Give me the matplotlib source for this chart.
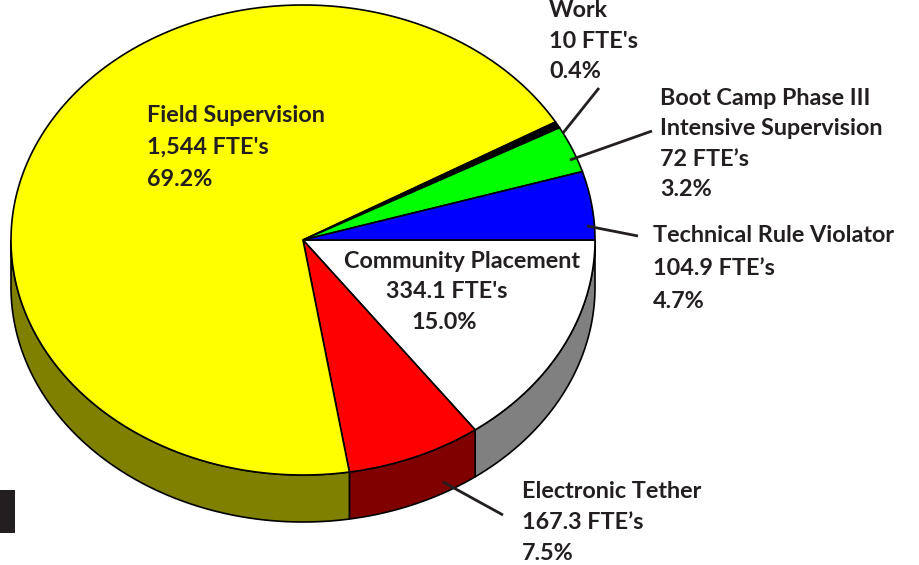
import numpy as np
import matplotlib
matplotlib.use("Agg")
import matplotlib.pyplot as plt
from matplotlib.patches import Polygon, Rectangle

# ---- data (clockwise from 3 o'clock) ----
categories = ["Community Placement", "Electronic Tether", "Field Supervision",
              "Work", "Boot Camp Phase III\nIntensive Supervision", "Technical Rule Violator"]
fte_values = [334.1, 167.3, 1544, 10, 72, 104.9]
fte_labels = ["334.1 FTE's", "167.3 FTE\u2019s", "1,544 FTE's", "10 FTE's", "72 FTE\u2019s", "104.9 FTE\u2019s"]
top_colors = ["#ffffff", "#ff0000", "#ffff00", "#000000", "#00ff00", "#0000ff"]
side_colors = ["#808080", "#800000", "#808000", "#000000", "#008000", "#000080"]

W, H = 919, 565
fig = plt.figure(figsize=(W / 100, H / 100), dpi=100)
ax = fig.add_axes([0, 0, 1, 1])
ax.set_xlim(0, W)
ax.set_ylim(H, 0)
ax.axis("off")

cx, cy, rx, ry, depth = 303, 240, 292, 235, 47
TXT = "#231f20"
FONT = dict(family=["Lato", "DejaVu Sans"], weight="bold", fontsize=16.8, color=TXT)

total = float(sum(fte_values))
fracs = [v / total for v in fte_values]
bounds = np.concatenate([[0], np.cumsum(fracs)]) * 360.0


def arc(a0, a1, dy=0):
    t = np.radians(np.linspace(a0, a1, max(int(abs(a1 - a0)) * 2 + 2, 4)))
    return np.column_stack([cx + rx * np.cos(t), cy + ry * np.sin(t) + dy])


# sides (visible front half 0..180 deg, screen clockwise)
for i in range(len(fte_values)):
    a0, a1 = bounds[i], bounds[i + 1]
    s0, s1 = max(a0, 0), min(a1, 180)
    if s1 > s0:
        top = arc(s0, s1)
        bot = arc(s0, s1, depth)[::-1]
        ax.add_patch(Polygon(np.vstack([top, bot]), closed=True,
                             facecolor=side_colors[i], edgecolor="black", lw=1.2, zorder=2))

# top faces
for i in range(len(fte_values)):
    a0, a1 = bounds[i], bounds[i + 1]
    pts = np.vstack([[cx, cy], arc(a0, a1)])
    ax.add_patch(Polygon(pts, closed=True, facecolor=top_colors[i],
                         edgecolor="black", lw=1.2, zorder=3))

pct = [f"{100 * f:.1f}%" for f in fracs]


def block(x, baselines, lines, ha="left"):
    xs = x if isinstance(x, (list, tuple)) else [x] * len(lines)
    for xx, yy, s in zip(xs, baselines, lines):
        ax.text(xx, yy, s, ha=ha, va="baseline", zorder=5, **FONT)


block(147, [122, 154, 186], [categories[2], fte_labels[2], pct[2]])
block(549, [17, 48, 78], [categories[3], fte_labels[3], pct[3]])
block(660, [105, 135, 166, 196], categories[4].split("\n") + [fte_labels[4], pct[4]])
block(653, [242, 275, 308], [categories[5], fte_labels[5], pct[5]])
block([462, 447, 444], [268, 298, 329], [categories[0], fte_labels[0], pct[0]], ha="center")
block(522, [498, 529, 560], [categories[1], fte_labels[1], pct[1]])

# leader lines
leaders = [((563, 133), (599, 88)), ((570, 160), (652, 131)),
           ((587, 226), (638, 236)), ((443, 482), (503, 515))]
for (x0, y0), (x1, y1) in leaders:
    ax.plot([x0, x1], [y0, y1], color=TXT, lw=2, zorder=6, solid_capstyle="butt")

# small dark block at lower left
ax.add_patch(Rectangle((0, 490), 15, 43, facecolor="#231f20", edgecolor="none", zorder=1))

fig.savefig("out.png", dpi=100)
